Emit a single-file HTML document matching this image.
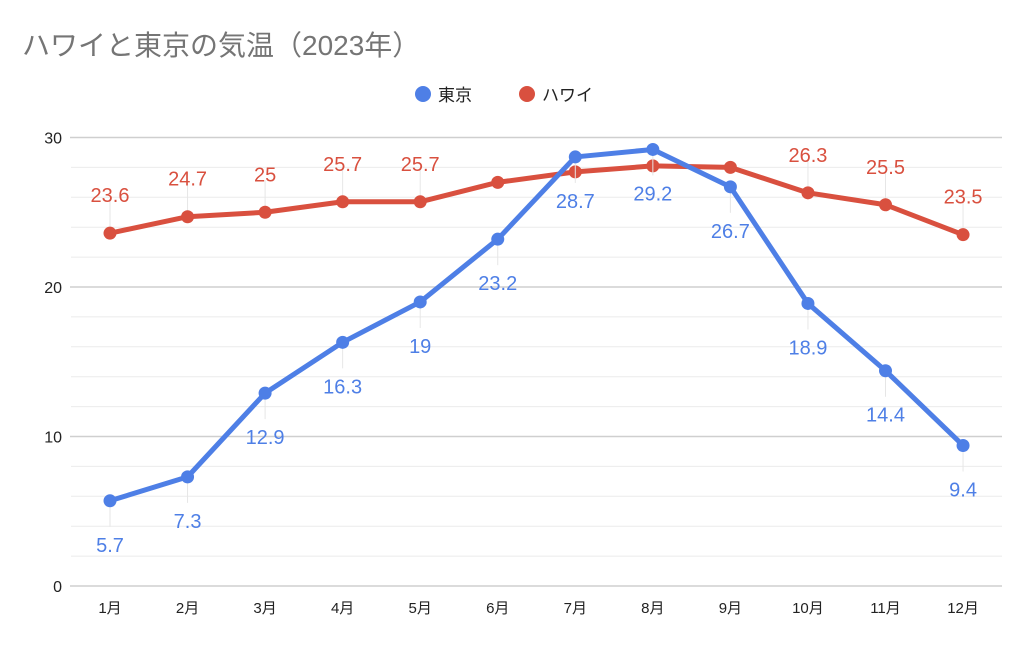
<!DOCTYPE html>
<html><head><meta charset="utf-8"><style>
body{margin:0;background:#fff;}
svg text{font-family:"Liberation Sans","Noto Sans CJK JP",sans-serif;}
</style></head><body>
<svg id="chart" width="1024" height="646" xmlns="http://www.w3.org/2000/svg">
<text x="22" y="55" font-size="28" fill="#757575">ハワイと東京の気温（2023年）</text>
<g>
<g><circle cx="423" cy="94" r="8" fill="#4e7fe6"/><text x="438" y="101" font-size="17" fill="#222">東京</text></g>
<g><circle cx="527" cy="94" r="8" fill="#d9503f"/><text x="542" y="101" font-size="17" fill="#222">ハワイ</text></g>
</g>
<g id="grid"></g><g id="axes"></g><g id="series"></g>
</svg>
<script>
const categories=["1月","2月","3月","4月","5月","6月","7月","8月","9月","10月","11月","12月"];
const tokyo=[5.7,7.3,12.9,16.3,19,23.2,28.7,29.2,26.7,18.9,14.4,9.4];
const hawaii=[23.6,24.7,25,25.7,25.7,27.0,27.7,28.1,28.0,26.3,25.5,23.5];
const hawaiiLabelShown=[1,1,1,1,1,0,0,0,0,1,1,1];
const yTicks=[0,10,20,30];
const NS="http://www.w3.org/2000/svg";
const y=v=>586-v*14.95;
const x=i=>110+i*77.55;
function mk(p,t,a){const e=document.createElementNS(NS,t);for(const k in a)e.setAttribute(k,a[k]);p.appendChild(e);return e;}
const grid=document.getElementById('grid'),axes=document.getElementById('axes'),ser=document.getElementById('series');
for(let v=0;v<=30;v+=2){
 const major=v%10===0;
 const l=mk(grid,'line',{x1:major?70:71,x2:1002,y1:y(v),y2:y(v),stroke:major?'#cfcfcf':'#ebebeb','stroke-width':major?1.5:1});
 
 
}
yTicks.forEach(v=>{const t=mk(axes,'text',{x:62,y:y(v)+6,'font-size':16,fill:'#222','text-anchor':'end'});t.textContent=v;
 
 });
categories.forEach((c,i)=>{const t=mk(axes,'text',{x:x(i),y:613,'font-size':15,fill:'#222','text-anchor':'middle'});t.textContent=c;
 
 });
function draw(vals,color,name,below,shown){
 const g=mk(ser,'g',{});
 
 
 vals.forEach((v,i)=>{ if(shown&&!shown[i])return;
  const ly=below?y(v)+44:y(v)-38;
  mk(g,'line',{x1:x(i),x2:x(i),y1:y(v),y2:below?ly-18:ly+6,stroke:'#e6e6e6','stroke-width':1});
 });
 const p=mk(g,'polyline',{points:vals.map((v,i)=>x(i)+','+y(v)).join(' '),fill:'none',stroke:color,'stroke-width':5,'stroke-linejoin':'round'});
 
 
 vals.forEach((v,i)=>{
  const c=mk(g,'circle',{cx:x(i),cy:y(v),r:6.5,fill:color});
  
  
  if(shown&&!shown[i])return;
  const t=mk(g,'text',{x:x(i),y:(below?y(v)+44:y(v)-38)+7,'font-size':20,fill:color,'text-anchor':'middle'});
  t.textContent=v;
  
  
 });
}
draw(hawaii,'#d9503f','hawaii',false,hawaiiLabelShown);
draw(tokyo,'#4e7fe6','tokyo',true,null);
</script>
</body></html>
